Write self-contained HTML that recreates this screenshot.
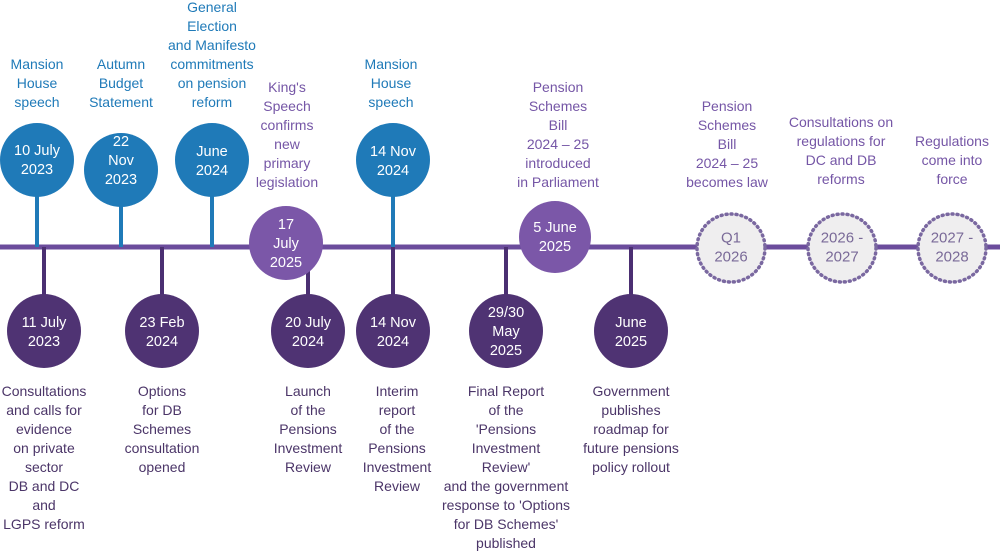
<!DOCTYPE html>
<html><head><meta charset="utf-8"><style>
html,body{margin:0;padding:0;background:#fff;width:1000px;height:551px;overflow:hidden}
svg text{font-family:"Liberation Sans",sans-serif;font-size:14px;text-anchor:middle;dominant-baseline:central}
.b{fill:#1f7ab8}.p{fill:#7556a6}.d{fill:#4b3568}.w{fill:#fff;font-size:14.5px}.g{fill:#7a6a98;font-size:15px}
</style></head><body>
<svg width="1000" height="551" viewBox="0 0 1000 551">
<g stroke-width="4">
<line x1="0" y1="247" x2="1000" y2="247" stroke="#6b4c9c" stroke-width="5"/>
<g stroke="#1f7ab8"><line x1="37" y1="160" x2="37" y2="247"/><line x1="121" y1="170" x2="121" y2="247"/><line x1="212" y1="160" x2="212" y2="247"/><line x1="393" y1="160" x2="393" y2="247"/></g>
<g stroke="#4b2f72"><line x1="44" y1="247" x2="44" y2="331"/><line x1="162" y1="247" x2="162" y2="331"/><line x1="308" y1="247" x2="308" y2="331"/><line x1="393" y1="247" x2="393" y2="331"/><line x1="506" y1="247" x2="506" y2="331"/><line x1="631" y1="247" x2="631" y2="331"/></g>
</g>
<g fill="#1f7ab8"><circle cx="37" cy="160" r="37"/><circle cx="121" cy="170" r="37"/><circle cx="212" cy="160" r="37"/><circle cx="393" cy="160" r="37"/></g>
<g fill="#4f3373"><circle cx="44" cy="331" r="37"/><circle cx="162" cy="331" r="37"/><circle cx="308" cy="331" r="37"/><circle cx="393" cy="331" r="37"/><circle cx="506" cy="331" r="37"/><circle cx="631" cy="331" r="37"/></g>
<g fill="#7b57a8"><circle cx="286" cy="243" r="37"/><circle cx="555" cy="237" r="36"/></g>
<g fill="#efeeef" stroke="#7a68a0" stroke-width="3.5" stroke-dasharray="1 4" stroke-linecap="round"><circle cx="731" cy="248" r="34"/><circle cx="842" cy="248" r="34"/><circle cx="952" cy="248" r="34"/></g>
<g class="w">
<text class="w" x="37" y="151">10 July</text><text class="w" x="37" y="170">2023</text>
<text class="w" x="121" y="142">22</text><text class="w" x="121" y="161">Nov</text><text class="w" x="121" y="180">2023</text>
<text class="w" x="212" y="152">June</text><text class="w" x="212" y="171">2024</text>
<text class="w" x="393" y="152">14 Nov</text><text class="w" x="393" y="171">2024</text>
<text class="w" x="286" y="225">17</text><text class="w" x="286" y="244">July</text><text class="w" x="286" y="263">2025</text>
<text class="w" x="555" y="228">5 June</text><text class="w" x="555" y="247">2025</text>
<text class="w" x="44" y="323">11 July</text><text class="w" x="44" y="342">2023</text>
<text class="w" x="162" y="323">23 Feb</text><text class="w" x="162" y="342">2024</text>
<text class="w" x="308" y="323">20 July</text><text class="w" x="308" y="342">2024</text>
<text class="w" x="393" y="323">14 Nov</text><text class="w" x="393" y="342">2024</text>
<text class="w" x="506" y="313">29/30</text><text class="w" x="506" y="332">May</text><text class="w" x="506" y="351">2025</text>
<text class="w" x="631" y="323">June</text><text class="w" x="631" y="342">2025</text>
</g>
<text class="g" x="731" y="238">Q1</text><text class="g" x="731" y="257">2026</text>
<text class="g" x="842" y="238">2026 -</text><text class="g" x="842" y="257">2027</text>
<text class="g" x="952" y="238">2027 -</text><text class="g" x="952" y="257">2028</text>

<g class="b">
<text class="b" x="37" y="64">Mansion</text><text class="b" x="37" y="83">House</text><text class="b" x="37" y="102">speech</text>
<text class="b" x="121" y="64">Autumn</text><text class="b" x="121" y="83">Budget</text><text class="b" x="121" y="102">Statement</text>
<text class="b" x="212" y="7">General</text><text class="b" x="212" y="26">Election</text><text class="b" x="212" y="45">and Manifesto</text><text class="b" x="212" y="64">commitments</text><text class="b" x="212" y="83">on pension</text><text class="b" x="212" y="102">reform</text>
<text class="b" x="391" y="64">Mansion</text><text class="b" x="391" y="83">House</text><text class="b" x="391" y="102">speech</text>
</g>
<text class="p" x="287" y="87">King's</text><text class="p" x="287" y="106">Speech</text><text class="p" x="287" y="125">confirms</text><text class="p" x="287" y="144">new</text><text class="p" x="287" y="163">primary</text><text class="p" x="287" y="182">legislation</text>
<text class="p" x="558" y="87">Pension</text><text class="p" x="558" y="106">Schemes</text><text class="p" x="558" y="125">Bill</text><text class="p" x="558" y="144">2024 – 25</text><text class="p" x="558" y="163">introduced</text><text class="p" x="558" y="182">in Parliament</text>
<text class="p" x="727" y="106">Pension</text><text class="p" x="727" y="125">Schemes</text><text class="p" x="727" y="144">Bill</text><text class="p" x="727" y="163">2024 – 25</text><text class="p" x="727" y="182">becomes law</text>
<text class="p" x="841" y="122">Consultations on</text><text class="p" x="841" y="141">regulations for</text><text class="p" x="841" y="160">DC and DB</text><text class="p" x="841" y="179">reforms</text>
<text class="p" x="952" y="141">Regulations</text><text class="p" x="952" y="160">come into</text><text class="p" x="952" y="179">force</text>

<text class="d" x="44" y="391">Consultations</text><text class="d" x="44" y="410">and calls for</text><text class="d" x="44" y="429">evidence</text><text class="d" x="44" y="448">on private</text><text class="d" x="44" y="467">sector</text><text class="d" x="44" y="486">DB and DC</text><text class="d" x="44" y="505">and</text><text class="d" x="44" y="524">LGPS reform</text>
<text class="d" x="162" y="391">Options</text><text class="d" x="162" y="410">for DB</text><text class="d" x="162" y="429">Schemes</text><text class="d" x="162" y="448">consultation</text><text class="d" x="162" y="467">opened</text>
<text class="d" x="308" y="391">Launch</text><text class="d" x="308" y="410">of the</text><text class="d" x="308" y="429">Pensions</text><text class="d" x="308" y="448">Investment</text><text class="d" x="308" y="467">Review</text>
<text class="d" x="397" y="391">Interim</text><text class="d" x="397" y="410">report</text><text class="d" x="397" y="429">of the</text><text class="d" x="397" y="448">Pensions</text><text class="d" x="397" y="467">Investment</text><text class="d" x="397" y="486">Review</text>
<text class="d" x="506" y="391">Final Report</text><text class="d" x="506" y="410">of the</text><text class="d" x="506" y="429">'Pensions</text><text class="d" x="506" y="448">Investment</text><text class="d" x="506" y="467">Review'</text><text class="d" x="506" y="486">and the government</text><text class="d" x="506" y="505">response to 'Options</text><text class="d" x="506" y="524">for DB Schemes'</text><text class="d" x="506" y="543">published</text>
<text class="d" x="631" y="391">Government</text><text class="d" x="631" y="410">publishes</text><text class="d" x="631" y="429">roadmap for</text><text class="d" x="631" y="448">future pensions</text><text class="d" x="631" y="467">policy rollout</text>
</svg>
</body></html>
